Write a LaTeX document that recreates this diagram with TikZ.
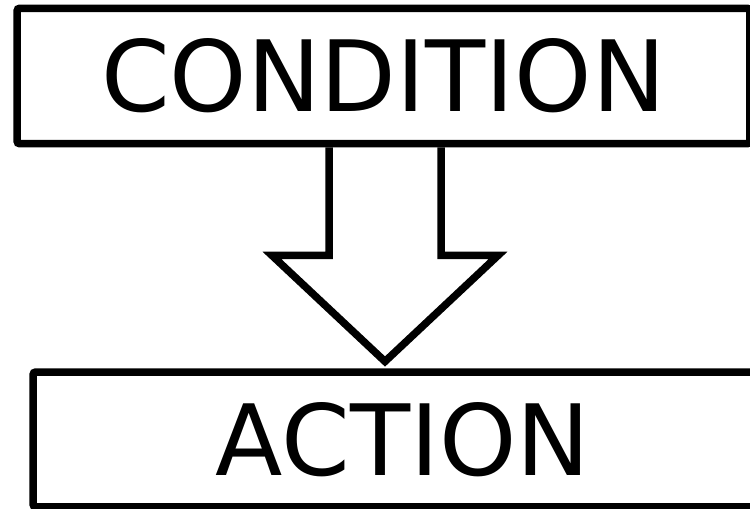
\documentclass[tikz,border=0pt]{standalone}
\usepackage{fontspec}
\setmainfont{DejaVu Sans}
\usetikzlibrary{calc}
\tikzset{
    bigbox/.style={
        draw,
        line width=0.15cm,
        rounded corners=1.5pt,
        inner sep=0pt,
        align=center,
        font=\fontsize{56}{62}\selectfont
    },
    hollowarrow/.style={line width=0.15cm, line join=miter, miter limit=10}
}
\begin{document}
\begin{tikzpicture}[x=0.02cm, y=-0.02cm]
\useasboundingbox (0,0) rectangle (750,509);

\node[bigbox, minimum width=14.66cm, minimum height=2.71cm] (cond) at (383.5,76) {CONDITION};
\node[bigbox, minimum width=14.8cm, minimum height=2.7cm] (act) at (403,439.5) {ACTION};

% hollow block arrow from condition to action
\draw[hollowarrow] (cond.south) ++(-54.5,0) -- ++(0,108) -- ++(-57,0)
    -- ++(113,106) coordinate (tip) -- ++(113,-106) -- ++(-57,0) -- ++(0,-108);
\end{tikzpicture}
\end{document}
